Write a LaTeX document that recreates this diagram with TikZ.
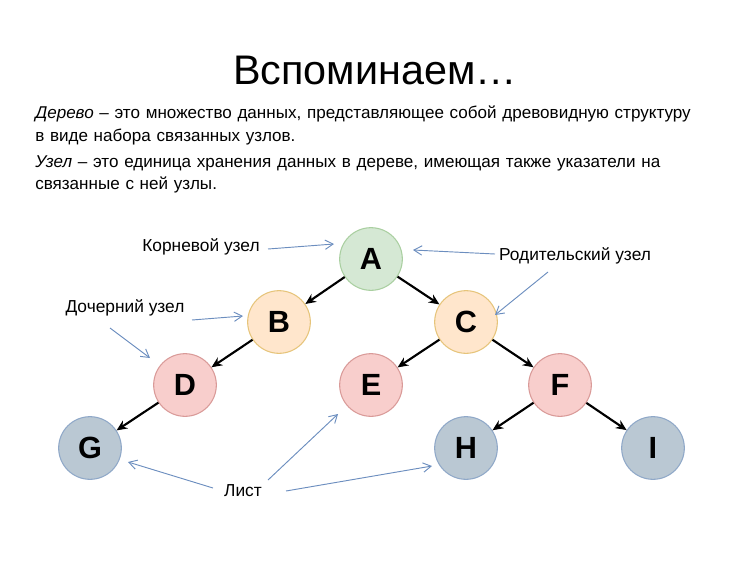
\documentclass[tikz,border=0pt]{standalone}
\usepackage{fontspec}
\setmainfont{Liberation Sans}
\usetikzlibrary{arrows.meta}
\definecolor{gfill}{HTML}{D5E8D4}\definecolor{gdraw}{HTML}{A9CFA0}
\definecolor{yfill}{HTML}{FFE6CC}\definecolor{ydraw}{HTML}{E6C47A}
\definecolor{pfill}{HTML}{F8CECC}\definecolor{pdraw}{HTML}{D99A98}
\definecolor{bfill}{HTML}{BAC8D3}\definecolor{bdraw}{HTML}{8FA8C8}
\definecolor{lbl}{HTML}{6C8EBF}
\begin{document}
\begin{tikzpicture}[x=0.75pt,y=-0.75pt,
 tn/.style={circle,minimum size=47pt,inner sep=0pt,line width=0.8pt,font=\fontsize{23}{23}\selectfont\bfseries},
 gn/.style={tn,fill=gfill,draw=gdraw},
 yn/.style={tn,fill=yfill,draw=ydraw},
 pn/.style={tn,fill=pfill,draw=pdraw},
 bn/.style={tn,fill=bfill,draw=bdraw},
 edge/.style={-{Stealth[length=8pt,width=7pt]},line width=1.6pt},
 pt/.style={-{Straight Barb[length=6pt,width=7pt]},draw=lbl,line width=0.7pt},
 lt/.style={font=\fontsize{13}{15}\selectfont,inner sep=1pt}]
\useasboundingbox (0,0) rectangle (750,561);
\node (title) at (375,70) {\fontsize{31}{31}\selectfont Вспоминаем…};
\node[anchor=north west,align=left,text width=520pt,font=\fontsize{12.8}{17}\selectfont,inner sep=0pt] (t1) at (35,106) {\textit{Дерево} – это множество данных, представляющее собой древовидную структуру\\ в виде набора связанных узлов.};
\node[anchor=north west,align=left,text width=520pt,font=\fontsize{12.8}{17}\selectfont,inner sep=0pt] (t2) at (35,155) {\textit{Узел} – это единица хранения данных в дереве, имеющая также указатели на\\ связанные с ней узлы.};
\node[gn] (A) at (371,259) {A};
\node[yn] (B) at (279,322) {B};
\node[yn] (C) at (466,322) {C};
\node[pn] (D) at (185,385) {D};
\node[pn] (E) at (371,385) {E};
\node[pn] (F) at (560,385) {F};
\node[bn] (G) at (90,448) {G};
\node[bn] (H) at (466,448) {H};
\node[bn] (I) at (653,448) {I};
\draw[edge] (A) -- (B); \draw[edge] (A) -- (C);
\draw[edge] (B) -- (D); \draw[edge] (C) -- (E); \draw[edge] (C) -- (F);
\draw[edge] (D) -- (G); \draw[edge] (F) -- (H); \draw[edge] (F) -- (I);
\node[lt] (k) at (201,247) {Корневой узел};
\node[lt] (r) at (575,256) {Родительский узел};
\node[lt] (d) at (125,308) {Дочерний узел};
\node[lt] (l) at (243,491) {Лист};
\coordinate (k0) at (268,249); \coordinate (k1) at (334,244);
\coordinate (r0) at (495,254); \coordinate (r1) at (413,250);
\coordinate (r2) at (548,272); \coordinate (r3) at (495,315);
\coordinate (d0) at (192,320); \coordinate (d1) at (243,316);
\coordinate (d2) at (110,328); \coordinate (d3) at (150,358);
\coordinate (l0) at (213,488); \coordinate (l1) at (128,462);
\coordinate (l2) at (268,480); \coordinate (l3) at (338,414);
\coordinate (l4) at (286,491); \coordinate (l5) at (432,466);
\draw[pt] (k0) -- (k1); \draw[pt] (r0) -- (r1); \draw[pt] (r2) -- (r3);
\draw[pt] (d0) -- (d1); \draw[pt] (d2) -- (d3);
\draw[pt] (l0) -- (l1); \draw[pt] (l2) -- (l3); \draw[pt] (l4) -- (l5);
\end{tikzpicture}
\end{document}
